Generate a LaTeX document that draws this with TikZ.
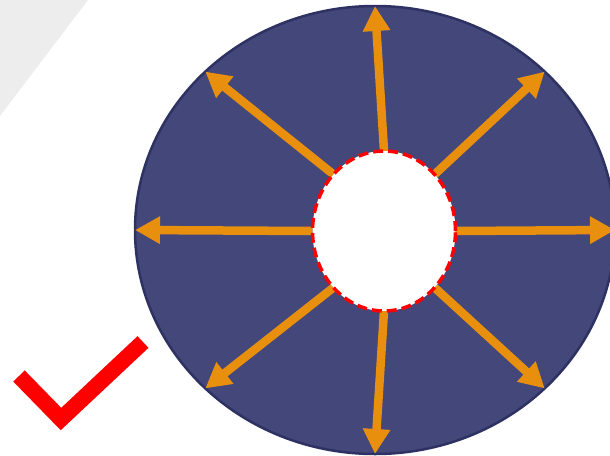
\documentclass[tikz,border=0pt]{standalone}
\usepackage{xcolor}
\usepackage{tikz}
\usetikzlibrary{shapes.geometric, arrows.meta, backgrounds}
\definecolor{ringnavy}{HTML}{434779}
\definecolor{ringedge}{HTML}{2E3262}
\definecolor{rayorange}{HTML}{E8900E}
\definecolor{holered}{HTML}{FF0000}
\definecolor{cornergrey}{HTML}{EDEDED}

\begin{document}
\begin{tikzpicture}[x=1pt,y=-1pt,
    disk/.style={ellipse,draw=ringedge,line width=2.5pt,fill=ringnavy,minimum width=480pt,minimum height=448pt,inner sep=0pt,outer sep=0pt},
    hole/.style={ellipse,draw=holered,line width=3.5pt,dash pattern=on 10pt off 5pt,fill=white,minimum width=143pt,minimum height=160pt,inner sep=0pt,outer sep=0pt},
    ray/.style={draw=rayorange,line width=8.5pt,-{Triangle[length=25pt,width=26pt,fill=rayorange]}}]
  \useasboundingbox (0,0) rectangle (610,455);
  % grey corner
  \fill[cornergrey] (0,0) -- (88,0) -- (0,116) -- cycle;
  % inner hole, on top
  \node[hole] (hole) at (384,231) {};
  % outer disk and rays, underneath
  \begin{scope}[on background layer]
    \node[disk] (disk) at (375,230) {};
    \foreach \a in {north,north east,east,south east,south,south west,west,north west} {
      \draw[ray] (hole.\a) -- (disk.\a);
    }
  \end{scope}
  % check mark
  \draw[holered,line width=16pt,miter limit=4] (19,376) -- (61,419) -- (143,342);
\end{tikzpicture}
\end{document}
